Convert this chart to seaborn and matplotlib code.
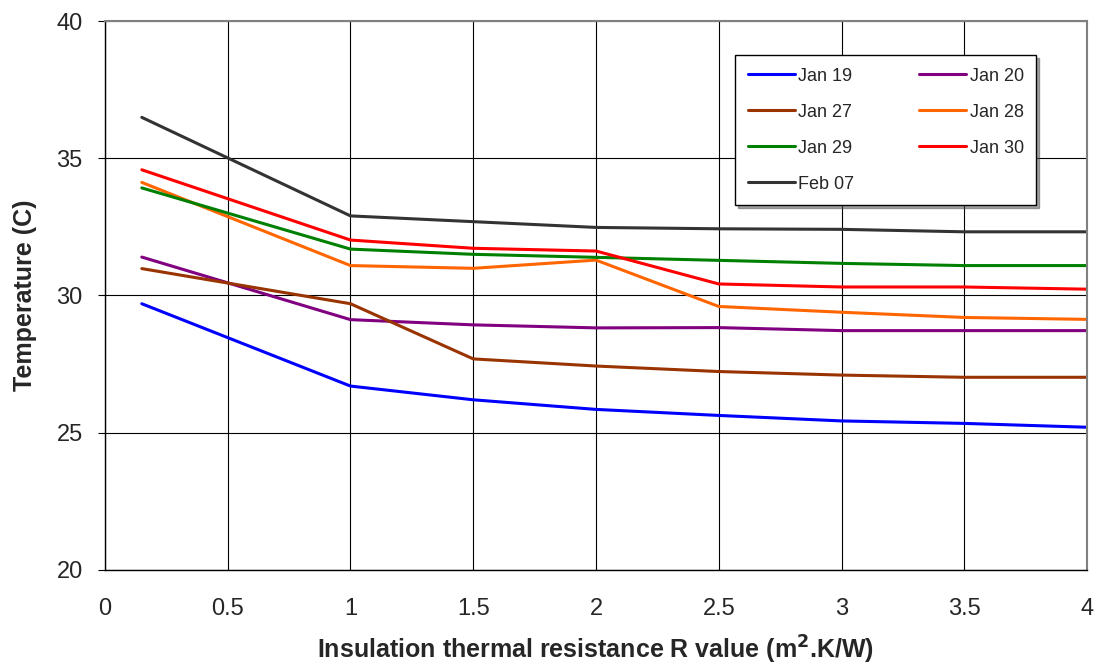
import matplotlib
matplotlib.use("Agg")
import matplotlib.pyplot as plt
import seaborn as sns
import pandas as pd

r_values = [0.15, 1, 1.5, 2, 2.5, 3, 3.5, 4]
jan19 = [29.7, 26.7, 26.2, 25.85, 25.63, 25.43, 25.34, 25.2]
jan20 = [31.4, 29.12, 28.93, 28.82, 28.83, 28.72, 28.72, 28.72]
jan27 = [30.98, 29.7, 27.69, 27.43, 27.23, 27.1, 27.02, 27.02]
jan28 = [34.12, 31.09, 30.99, 31.29, 29.6, 29.39, 29.2, 29.13]
jan29 = [33.92, 31.69, 31.5, 31.39, 31.28, 31.17, 31.09, 31.09]
jan30 = [34.58, 32.02, 31.72, 31.62, 30.42, 30.31, 30.31, 30.23]
feb07 = [36.49, 32.9, 32.69, 32.48, 32.43, 32.41, 32.32, 32.32]

series_names = ["Jan 19", "Jan 20", "Jan 27", "Jan 28", "Jan 29", "Jan 30", "Feb 07"]
series_values = [jan19, jan20, jan27, jan28, jan29, jan30, feb07]
colors = ["#0000ff", "#800080", "#993300", "#ff6600", "#008000", "#ff0000", "#333333"]

x_ticks = [0, 0.5, 1, 1.5, 2, 2.5, 3, 3.5, 4]
y_ticks = [20, 25, 30, 35, 40]

rows = []
for name, vals in zip(series_names, series_values):
    for x, v in zip(r_values, vals):
        rows.append({"R": x, "T": v, "Series": name})
df = pd.DataFrame(rows)

sns.set_theme(style="white")
plt.rcParams["font.family"] = ["Liberation Sans", "DejaVu Sans"]

fig = plt.figure(figsize=(10.98, 6.65), dpi=100)
ax = fig.add_axes([0.0956, 0.1429, 0.8944, 0.8255])

sns.lineplot(data=df, x="R", y="T", hue="Series", hue_order=series_names,
             palette=dict(zip(series_names, colors)), linewidth=2.2, ax=ax,
             legend=True)

ax.set_xlim(0, 4)
ax.set_ylim(20, 40)
ax.set_xticks(x_ticks)
ax.set_xticklabels([f"{t:g}" for t in x_ticks])
ax.set_yticks(y_ticks)
ax.grid(True, color="black", linewidth=0.8)
ax.set_axisbelow(True)
ax.tick_params(axis="y", labelsize=17, length=5, width=0.8, color="black",
               direction="out", left=True, pad=11)
ax.tick_params(axis="x", labelsize=17, length=0, bottom=True, pad=20)
for s in ["left", "bottom"]:
    ax.spines[s].set_color("black")
    ax.spines[s].set_linewidth(1.0)
for s in ["top", "right"]:
    ax.spines[s].set_color("#808080")
    ax.spines[s].set_linewidth(1.5)

ax.set_xlabel("Insulation thermal resistance R value (m$\\mathbf{^2}$.K/W)",
              fontsize=18, fontweight="bold", labelpad=10)
ax.set_ylabel("Temperature (C)", fontsize=18, fontweight="bold", labelpad=14)

handles, labels = ax.get_legend_handles_labels()
hmap = dict(zip(labels, handles))
order = ["Jan 19", "Jan 27", "Jan 29", "Feb 07", "Jan 20", "Jan 28", "Jan 30"]
leg = ax.legend([hmap[k] for k in order], order, ncol=2, loc="upper left",
                bbox_to_anchor=(0.6415, 0.938), borderaxespad=0, fontsize=13,
                frameon=True, fancybox=False, shadow=True, edgecolor="black",
                borderpad=0.7, labelspacing=1.05, columnspacing=3.6,
                handlelength=2.6, handletextpad=0.2)
leg.get_frame().set_linewidth(1.0)

fig.savefig("out.png", dpi=100)
